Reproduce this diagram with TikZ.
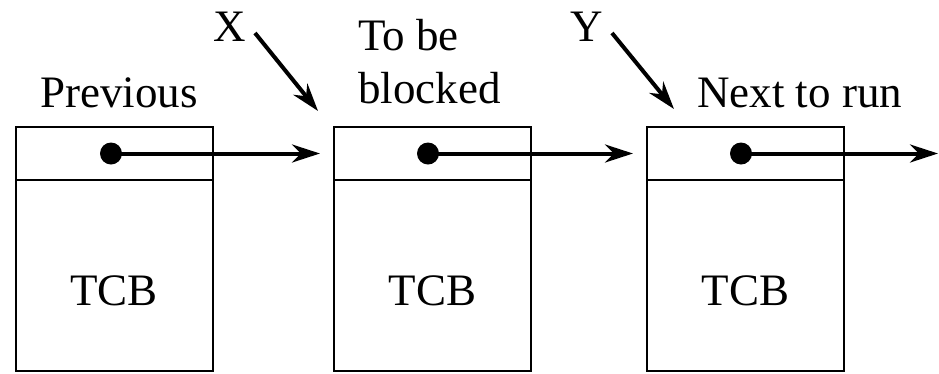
\documentclass[tikz,border=0pt]{standalone}
\usepackage{fontspec}
\setmainfont{Liberation Serif}
\usetikzlibrary{arrows.meta}
\begin{document}
\begin{tikzpicture}[x=1pt,y=-1pt,
  txt/.style={inner sep=0pt,font=\fontsize{45}{53}\selectfont},
  cell/.style={draw,line width=2pt,minimum width=197pt,inner sep=0pt,outer sep=0pt},
  topcell/.style={cell,minimum height=53pt},
  bodycell/.style={cell,minimum height=191pt},
  dot/.style={circle,fill,inner sep=0pt,minimum size=22pt},
  ptr/.style={line width=4pt,-{Stealth[length=28pt,width=18pt,inset=9pt]}}]
\useasboundingbox (0,0) rectangle (939,373);

% three TCB records: pointer cell on top, body below
\foreach \n/\x in {1/114,2/432.5,3/745.5}{
  \node[topcell] (p\n) at (\x,153.5) {};
  \node[bodycell,anchor=north] (b\n) at (p\n.south) {};
  \node[txt] (t\n) at (\x,291) {TCB};
}

% pointer dots
\node[dot] (d1) at (111,153.5) {};
\node[dot] (d2) at (428,153.5) {};
\node[dot] (d3) at (741,153.5) {};

% next-links
\coordinate (e1) at ([xshift=-14pt]p2.west);
\coordinate (e2) at ([xshift=-14pt]p3.west);
\coordinate (e3) at (938,153.5);
\draw[ptr] (d1.center) -- (e1);
\draw[ptr] (d2.center) -- (e2);
\draw[ptr] (d3.center) -- (e3);

% captions
\node[txt,anchor=base west] (lprev) at (40,107) {Previous};
\node[txt,anchor=base west,align=left] (lblk) at (358,103) {To be\\blocked};
\node[txt,anchor=base west] (lnext) at (697,107) {Next to run};

% external pointers X and Y
\node[txt] (x) at (230,27) {X};
\node[txt] (y) at (587,27) {Y};
\coordinate (xs) at (255,33);
\coordinate (xe) at (318,111);
\coordinate (ys) at (612,33);
\coordinate (ye) at (674,109);
\draw[ptr] (xs) -- (xe);
\draw[ptr] (ys) -- (ye);
\end{tikzpicture}
\end{document}
